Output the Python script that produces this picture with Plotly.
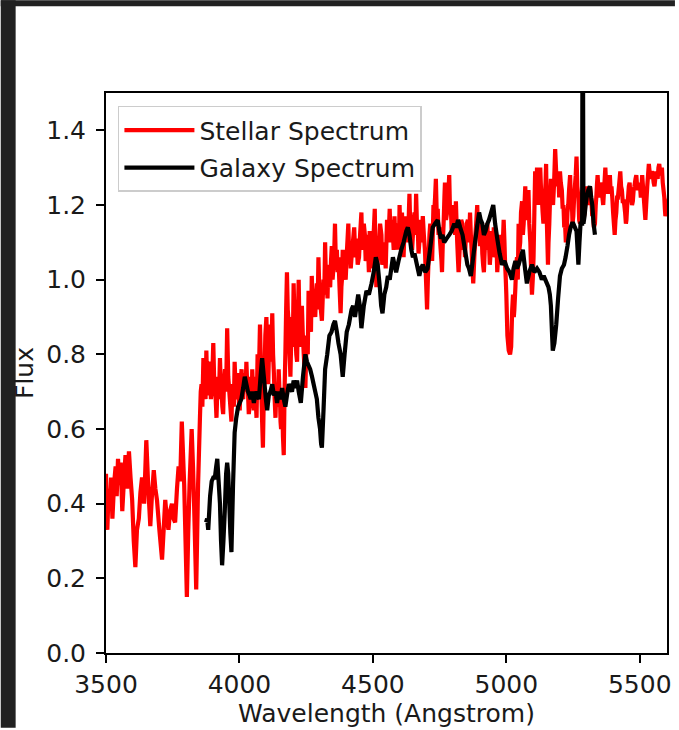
import plotly.graph_objects as go

# Stellar template spectrum as (wavelength [Angstrom], normalised flux) pairs,
# split into three wavelength segments
stellar_blue = [
    (3500, 0.48), (3503, 0.36), (3505, 0.33), (3510, 0.44), (3515, 0.40),
    (3519, 0.47), (3524, 0.36), (3530, 0.45), (3536, 0.50), (3540, 0.42),
    (3545, 0.52), (3550, 0.45), (3555, 0.51), (3561, 0.38), (3567, 0.46),
    (3573, 0.53), (3579, 0.44), (3586, 0.54), (3592, 0.47), (3598, 0.41),
    (3604, 0.30), (3610, 0.23), (3616, 0.33), (3623, 0.36), (3629, 0.43),
    (3635, 0.47), (3643, 0.40), (3651, 0.57), (3658, 0.45), (3666, 0.34),
    (3672, 0.42), (3679, 0.49), (3685, 0.44), (3691, 0.41), (3700, 0.33),
    (3710, 0.25), (3716, 0.33), (3722, 0.41), (3728, 0.36), (3734, 0.33),
    (3740, 0.38), (3747, 0.40), (3753, 0.36), (3759, 0.35), (3766, 0.44),
    (3772, 0.50), (3778, 0.46), (3784, 0.62), (3793, 0.45), (3798, 0.30),
    (3803, 0.15), (3808, 0.32), (3813, 0.45), (3821, 0.60), (3826, 0.50),
    (3830, 0.40), (3838, 0.17), (3845, 0.45),
]
stellar_mid = [
    (3852, 0.63), (3855, 0.70), (3858, 0.72), (3861, 0.66), (3865, 0.79),
    (3868, 0.71), (3870, 0.74), (3873, 0.68), (3876, 0.81), (3879, 0.72),
    (3883, 0.69), (3886, 0.78), (3890, 0.77), (3893, 0.68), (3896, 0.70),
    (3899, 0.76), (3902, 0.83), (3905, 0.74), (3908, 0.72), (3911, 0.68),
    (3914, 0.63), (3917, 0.70), (3920, 0.74), (3923, 0.68), (3927, 0.79),
    (3930, 0.72), (3933, 0.70), (3936, 0.66), (3939, 0.64), (3942, 0.72),
    (3946, 0.76), (3950, 0.70), (3954, 0.87), (3958, 0.74), (3962, 0.70),
    (3966, 0.66), (3970, 0.62), (3973, 0.70), (3976, 0.72), (3979, 0.66),
    (3982, 0.78), (3986, 0.70), (3990, 0.68), (3993, 0.75), (3995, 0.74),
    (3998, 0.67), (4001, 0.65), (4004, 0.72), (4008, 0.76), (4011, 0.70),
    (4014, 0.68), (4017, 0.73), (4020, 0.75), (4023, 0.70), (4026, 0.78),
    (4029, 0.72), (4032, 0.70), (4035, 0.64), (4038, 0.66), (4041, 0.74),
    (4043, 0.72), (4046, 0.66), (4048, 0.76), (4051, 0.70), (4054, 0.65),
    (4057, 0.74), (4060, 0.69), (4064, 0.63), (4068, 0.80), (4072, 0.72),
    (4077, 0.88), (4080, 0.78), (4082, 0.70), (4085, 0.62), (4088, 0.55),
    (4091, 0.68), (4094, 0.75), (4097, 0.85), (4101, 0.90), (4104, 0.80),
    (4106, 0.82), (4108, 0.72), (4110, 0.79), (4113, 0.88), (4116, 0.86),
    (4119, 0.78), (4123, 0.91), (4126, 0.80), (4129, 0.75), (4132, 0.68),
    (4135, 0.63), (4138, 0.70), (4141, 0.72), (4144, 0.66), (4147, 0.76),
    (4150, 0.70), (4152, 0.68), (4154, 0.62), (4156, 0.60), (4159, 0.70),
    (4161, 0.66), (4163, 0.58), (4166, 0.53), (4169, 0.70), (4172, 0.80),
    (4175, 0.92), (4178, 1.02), (4181, 0.92), (4185, 0.88), (4188, 0.80),
    (4191, 0.74), (4194, 0.84), (4197, 0.90), (4200, 0.82), (4203, 0.99),
    (4206, 0.90), (4210, 0.85), (4213, 0.80), (4216, 0.78), (4219, 0.90),
    (4222, 1.00), (4225, 0.86), (4228, 0.90), (4231, 0.82), (4234, 0.93),
    (4237, 0.86), (4241, 0.80), (4244, 0.76), (4247, 0.71), (4250, 0.80),
    (4253, 0.85), (4256, 0.80), (4259, 0.97), (4262, 0.88), (4265, 0.92),
    (4268, 0.86), (4271, 1.01), (4274, 0.94), (4278, 0.95), (4281, 0.92),
    (4284, 0.90), (4287, 0.96), (4290, 0.99), (4293, 0.92), (4296, 1.06),
    (4299, 0.98), (4302, 0.97), (4305, 0.92), (4309, 0.89), (4312, 0.95),
    (4315, 1.00), (4318, 0.96), (4321, 1.10), (4324, 1.00), (4327, 0.99),
    (4330, 0.95), (4333, 1.04), (4336, 0.99), (4340, 0.98), (4343, 1.05),
    (4346, 1.09), (4349, 1.00), (4352, 1.03), (4355, 1.07), (4358, 1.15),
    (4361, 1.05), (4365, 1.08), (4368, 1.02), (4371, 1.06), (4375, 0.98),
    (4379, 0.91), (4382, 0.98), (4384, 1.00), (4387, 1.08), (4389, 1.06),
    (4393, 1.02), (4398, 1.00), (4403, 1.08), (4408, 1.15), (4411, 1.06),
    (4414, 1.09), (4417, 1.03), (4420, 1.06), (4425, 1.10), (4430, 1.14),
    (4434, 1.06), (4439, 1.11), (4443, 1.04), (4448, 1.06), (4452, 1.12),
    (4457, 1.18), (4460, 1.08), (4463, 1.10), (4466, 1.15), (4470, 1.12),
    (4473, 1.05), (4476, 1.06), (4479, 1.12), (4482, 1.08), (4485, 1.02),
    (4488, 1.13), (4491, 1.08), (4495, 1.03), (4498, 1.06), (4501, 1.10),
    (4504, 1.14), (4507, 1.19), (4510, 1.06), (4513, 0.98), (4517, 1.04),
    (4522, 1.08), (4527, 1.15), (4532, 1.12), (4535, 1.04), (4538, 1.05),
    (4541, 1.10), (4544, 1.08), (4548, 1.03), (4553, 1.16), (4558, 1.10),
]
stellar_red = [
    (4563, 1.19), (4566, 1.12), (4569, 1.10), (4572, 1.16), (4575, 1.12),
    (4578, 1.08), (4581, 1.17), (4584, 1.10), (4587, 1.08), (4590, 1.15),
    (4594, 1.14), (4597, 1.08), (4600, 1.20), (4603, 1.12), (4606, 1.13),
    (4609, 1.18), (4612, 1.11), (4615, 1.06), (4619, 1.15), (4622, 1.10),
    (4625, 1.17), (4628, 1.12), (4631, 1.10), (4634, 1.16), (4637, 1.23),
    (4640, 1.14), (4644, 1.15), (4647, 1.08), (4650, 1.12), (4653, 1.16),
    (4656, 1.18), (4659, 1.12), (4662, 1.23), (4665, 1.15), (4668, 1.14),
    (4671, 1.07), (4674, 1.10), (4677, 1.15), (4680, 1.16), (4683, 1.10),
    (4687, 1.17), (4691, 1.12), (4695, 1.08), (4699, 1.00), (4703, 0.92),
    (4706, 1.00), (4709, 1.06), (4712, 1.12), (4715, 1.15), (4718, 1.08),
    (4720, 1.09), (4722, 1.05), (4724, 1.11), (4727, 1.20), (4730, 1.18),
    (4733, 1.22), (4736, 1.27), (4740, 1.15), (4743, 1.19), (4746, 1.12),
    (4749, 1.14), (4752, 1.10), (4754, 1.08), (4757, 1.05), (4759, 1.02),
    (4762, 1.10), (4765, 1.15), (4768, 1.22), (4770, 1.26), (4774, 1.16),
    (4778, 1.18), (4782, 1.22), (4786, 1.28), (4789, 1.18), (4792, 1.20),
    (4795, 1.13), (4798, 1.15), (4801, 1.20), (4805, 1.18), (4808, 1.12),
    (4811, 1.21), (4814, 1.14), (4816, 1.10), (4819, 1.05), (4821, 1.02),
    (4825, 1.08), (4828, 1.10), (4831, 1.16), (4835, 1.15), (4838, 1.08),
    (4842, 1.12), (4845, 1.06), (4848, 1.11), (4852, 1.15), (4856, 1.16),
    (4860, 1.10), (4864, 1.18), (4867, 1.12), (4870, 1.08), (4873, 1.03),
    (4876, 0.99), (4880, 1.06), (4884, 1.12), (4887, 1.15), (4891, 1.20),
    (4894, 1.12), (4898, 1.14), (4901, 1.09), (4904, 1.11), (4907, 1.15),
    (4910, 1.07), (4913, 1.04), (4916, 1.02), (4919, 1.08), (4922, 1.10),
    (4925, 1.14), (4929, 1.15), (4932, 1.08), (4935, 1.10), (4938, 1.04),
    (4941, 1.07), (4944, 1.13), (4947, 1.12), (4950, 1.06), (4953, 1.14),
    (4957, 1.10), (4960, 1.06), (4963, 1.10), (4966, 1.02), (4969, 1.06),
    (4972, 1.08), (4975, 1.12), (4978, 1.09), (4981, 1.04), (4984, 1.12),
    (4987, 1.10), (4990, 1.16), (4993, 1.10), (4995, 1.05), (4998, 1.00),
    (5000, 0.96), (5004, 0.85), (5009, 0.81), (5014, 0.80), (5018, 0.82),
    (5022, 0.92), (5025, 0.96), (5028, 0.90), (5030, 0.92), (5034, 0.98),
    (5037, 1.04), (5040, 1.06), (5043, 1.00), (5046, 1.15), (5049, 1.08),
    (5052, 1.10), (5055, 1.18), (5059, 1.21), (5062, 1.12), (5065, 1.15),
    (5068, 1.20), (5071, 1.25), (5074, 1.16), (5077, 1.18), (5080, 1.22),
    (5083, 1.24), (5086, 1.15), (5090, 1.10), (5093, 1.02), (5096, 0.96),
    (5099, 1.00), (5102, 1.06), (5105, 1.18), (5108, 1.29), (5111, 1.20),
    (5115, 1.30), (5118, 1.24), (5121, 1.20), (5124, 1.26), (5127, 1.30),
    (5130, 1.24), (5133, 1.22), (5136, 1.18), (5139, 1.15), (5142, 1.20),
    (5144, 1.22), (5147, 1.26), (5149, 1.31), (5152, 1.15), (5156, 1.04),
    (5158, 1.10), (5161, 1.15), (5164, 1.22), (5167, 1.27), (5171, 1.22),
    (5175, 1.20), (5179, 1.26), (5183, 1.35), (5186, 1.30), (5189, 1.25),
    (5192, 1.28), (5195, 1.28), (5198, 1.22), (5201, 1.29), (5204, 1.26),
    (5208, 1.24), (5211, 1.19), (5214, 1.20), (5217, 1.14), (5220, 1.15),
    (5223, 1.10), (5226, 1.12), (5229, 1.18), (5232, 1.20), (5235, 1.24),
    (5239, 1.28), (5242, 1.20), (5245, 1.22), (5248, 1.15), (5251, 1.17),
    (5254, 1.22), (5257, 1.25), (5260, 1.28), (5263, 1.33), (5266, 1.25),
    (5270, 1.22), (5273, 1.16), (5276, 1.15), (5279, 1.18), (5282, 1.20),
    (5285, 1.24), (5288, 1.21), (5291, 1.17), (5294, 1.18), (5297, 1.22),
    (5301, 1.25), (5305, 1.20), (5310, 1.22), (5314, 1.25), (5319, 1.21),
    (5322, 1.17), (5325, 1.18), (5328, 1.14), (5332, 1.15), (5335, 1.20),
    (5337, 1.22), (5340, 1.26), (5342, 1.28), (5345, 1.24), (5349, 1.22),
    (5352, 1.26), (5356, 1.24), (5360, 1.22), (5363, 1.20), (5367, 1.25),
    (5371, 1.30), (5374, 1.25), (5376, 1.26), (5379, 1.24), (5381, 1.23),
    (5385, 1.26), (5388, 1.28), (5391, 1.23), (5394, 1.25), (5397, 1.22),
    (5400, 1.18), (5403, 1.15), (5406, 1.12), (5409, 1.16), (5412, 1.18),
    (5415, 1.22), (5418, 1.22), (5422, 1.25), (5427, 1.29), (5430, 1.25),
    (5433, 1.24), (5436, 1.21), (5440, 1.21), (5442, 1.20), (5445, 1.18),
    (5448, 1.15), (5450, 1.16), (5453, 1.20), (5456, 1.22), (5459, 1.25),
    (5462, 1.26), (5465, 1.22), (5468, 1.23), (5471, 1.20), (5474, 1.21),
    (5477, 1.24), (5480, 1.25), (5484, 1.27), (5487, 1.28), (5490, 1.25),
    (5493, 1.24), (5496, 1.26), (5499, 1.25), (5502, 1.24), (5504, 1.22),
    (5507, 1.25), (5509, 1.28), (5512, 1.25), (5515, 1.22), (5518, 1.19),
    (5521, 1.16), (5524, 1.20), (5528, 1.25), (5531, 1.28), (5534, 1.31),
    (5538, 1.28), (5541, 1.27), (5545, 1.29), (5549, 1.28), (5552, 1.26),
    (5555, 1.25), (5558, 1.27), (5561, 1.29), (5564, 1.28), (5567, 1.27),
    (5570, 1.30), (5573, 1.31), (5576, 1.29), (5580, 1.28), (5583, 1.30),
    (5586, 1.26), (5589, 1.24), (5592, 1.22), (5594, 1.19), (5596, 1.17),
    (5610, 1.22),
]

# Observed galaxy spectrum
galaxy_points = [
    (3875, 0.35), (3879, 0.36), (3883, 0.33), (3890, 0.42), (3896, 0.46),
    (3902, 0.47), (3908, 0.47), (3913, 0.50), (3917, 0.52), (3922, 0.46),
    (3927, 0.40), (3931, 0.30), (3935, 0.235), (3940, 0.30), (3945, 0.38),
    (3950, 0.48), (3954, 0.51), (3958, 0.48), (3961, 0.42), (3966, 0.32),
    (3970, 0.27), (3976, 0.45), (3982, 0.59), (3988, 0.63), (3995, 0.66),
    (4001, 0.67), (4007, 0.68), (4014, 0.71), (4020, 0.74), (4026, 0.72),
    (4032, 0.70), (4038, 0.69), (4042, 0.68), (4048, 0.70), (4054, 0.67),
    (4061, 0.70), (4067, 0.69), (4073, 0.68), (4079, 0.74), (4085, 0.79),
    (4090, 0.75), (4094, 0.72), (4099, 0.68), (4104, 0.65), (4110, 0.69),
    (4116, 0.70), (4123, 0.72), (4129, 0.69), (4135, 0.70), (4141, 0.67),
    (4147, 0.70), (4154, 0.68), (4160, 0.71), (4166, 0.68), (4172, 0.66),
    (4178, 0.69), (4185, 0.72), (4191, 0.71), (4197, 0.70), (4203, 0.73),
    (4210, 0.71), (4216, 0.73), (4222, 0.70), (4230, 0.67), (4238, 0.74),
    (4247, 0.80), (4253, 0.78), (4259, 0.77), (4265, 0.76), (4272, 0.74),
    (4278, 0.72), (4284, 0.70), (4290, 0.68), (4296, 0.63), (4302, 0.60),
    (4306, 0.56), (4309, 0.55), (4315, 0.65), (4321, 0.76), (4329, 0.80),
    (4337, 0.85), (4345, 0.86), (4352, 0.88), (4358, 0.89), (4365, 0.86),
    (4371, 0.83), (4379, 0.80), (4387, 0.74), (4394, 0.80), (4402, 0.86),
    (4410, 0.88), (4420, 0.92), (4426, 0.93), (4433, 0.90), (4439, 0.93),
    (4445, 0.96), (4451, 0.93), (4457, 0.87), (4466, 0.93), (4476, 0.97),
    (4485, 0.96), (4495, 0.99), (4503, 1.02), (4511, 1.06), (4518, 1.04),
    (4526, 0.98), (4531, 0.93), (4536, 0.91), (4543, 0.96), (4550, 0.98),
    (4556, 1.01), (4563, 1.00), (4569, 1.03), (4575, 1.06), (4581, 1.04),
    (4587, 1.02), (4596, 1.05), (4606, 1.08), (4615, 1.10), (4625, 1.13),
    (4631, 1.14), (4637, 1.12), (4644, 1.08), (4650, 1.06), (4656, 1.07),
    (4662, 1.05), (4668, 1.03), (4674, 1.01), (4680, 1.03), (4687, 1.04),
    (4696, 1.02), (4705, 1.03), (4714, 1.08), (4724, 1.14), (4733, 1.15),
    (4743, 1.16), (4749, 1.13), (4755, 1.11), (4761, 1.12), (4767, 1.10),
    (4776, 1.11), (4786, 1.12), (4795, 1.13), (4805, 1.15), (4812, 1.14),
    (4819, 1.16), (4827, 1.14), (4836, 1.12), (4845, 1.08), (4854, 1.04),
    (4860, 1.03), (4867, 1.01), (4874, 1.05), (4881, 1.09), (4890, 1.14),
    (4898, 1.18), (4904, 1.16), (4910, 1.15), (4916, 1.12), (4922, 1.13),
    (4929, 1.15), (4935, 1.16), (4943, 1.18), (4951, 1.20), (4958, 1.15),
    (4966, 1.11), (4975, 1.07), (4984, 1.04), (4993, 1.05), (5003, 1.03),
    (5012, 1.02), (5021, 1.00), (5027, 1.03), (5034, 1.05), (5040, 1.03),
    (5046, 1.04), (5054, 1.06), (5062, 1.08), (5070, 1.03), (5077, 0.99),
    (5086, 1.02), (5096, 1.04), (5105, 1.02), (5115, 1.03), (5124, 1.02),
    (5133, 1.00), (5140, 1.01), (5146, 1.00), (5152, 0.99), (5158, 0.98),
    (5163, 0.96), (5167, 0.93), (5171, 0.86), (5174, 0.81), (5180, 0.83),
    (5187, 0.88), (5194, 0.95), (5201, 1.01), (5208, 1.03), (5216, 1.04),
    (5222, 1.06), (5229, 1.09), (5235, 1.12), (5241, 1.14), (5246, 1.15),
    (5251, 1.15), (5257, 1.14), (5263, 1.13), (5267, 1.08), (5270, 1.04),
    (5274, 1.10), (5278, 1.15), (5284, 1.15), (5286, 1.90), (5289, 1.15),
    (5293, 1.17), (5297, 1.20), (5301, 1.22), (5307, 1.24), (5313, 1.25),
    (5318, 1.22), (5322, 1.20), (5327, 1.15), (5332, 1.12),
]

x_ticks = [3500, 4000, 4500, 5000, 5500]
y_ticks = [0.0, 0.2, 0.4, 0.6, 0.8, 1.0, 1.2, 1.4]

stellar_wave, stellar_flux = zip(*(stellar_blue + stellar_mid + stellar_red))
galaxy_wave, galaxy_flux = zip(*galaxy_points)

FONT = "DejaVu Sans"
FS = 25
INK = "#1a1a1a"
W, H = 679, 730
L, R, T, B = 106, 8, 93, 75
pw, ph = W - L - R, H - T - B


def px_x(p):
    return (p - L) / pw


def px_y(p):
    return (H - B - p) / ph


fig = go.Figure()
fig.add_trace(go.Scatter(
    x=list(stellar_wave), y=list(stellar_flux), mode="lines",
    name="Stellar Spectrum", legendgroup="stellar",
    line=dict(color="#ff0000", width=4.2, simplify=False),
))
fig.add_trace(go.Scatter(
    x=list(galaxy_wave), y=list(galaxy_flux), mode="lines",
    name="Galaxy Spectrum", legendgroup="galaxy",
    line=dict(color="#000000", width=4.2, simplify=False),
))

axis_common = dict(
    showgrid=False, zeroline=False, showline=True, mirror=True,
    linecolor="black", linewidth=2, ticks="outside", ticklen=8,
    tickwidth=2, tickcolor="black",
    tickfont=dict(family=FONT, size=FS, color=INK),
)

fig.update_layout(
    width=W, height=H,
    margin=dict(l=L, r=R, t=T, b=B, pad=0),
    paper_bgcolor="white", plot_bgcolor="white",
    font=dict(family=FONT, size=FS, color=INK),
    xaxis=dict(
        range=[3500, 5602], tickvals=x_ticks,
        ticktext=[str(v) for v in x_ticks],
        title=dict(text="Wavelength (Angstrom)", standoff=5,
                   font=dict(family=FONT, size=FS, color=INK)),
        **axis_common,
    ),
    yaxis=dict(
        range=[0, 1.5], tickvals=y_ticks,
        ticktext=[f"{v:.1f}" for v in y_ticks],
        ticklabelstandoff=5,
        title=dict(text="Flux", standoff=5,
                   font=dict(family=FONT, size=FS, color=INK)),
        **axis_common,
    ),
    legend=dict(
        x=px_x(118), y=px_y(106), xanchor="left", yanchor="top",
        bgcolor="rgba(255,255,255,0.85)", bordercolor="#cccccc",
        borderwidth=1.5, font=dict(family=FONT, size=FS, color=INK),
        itemwidth=70, tracegroupgap=2, traceorder="grouped",
    ),
    showlegend=True,
)

# dark frame bands along the top and left edges of the page
band = "#212121"
fig.add_shape(type="rect", xref="paper", yref="paper",
              x0=px_x(0), x1=px_x(W), y0=px_y(6), y1=px_y(0),
              fillcolor=band, line=dict(width=0), layer="above")
fig.add_shape(type="rect", xref="paper", yref="paper",
              x0=px_x(0), x1=px_x(15), y0=px_y(H), y1=px_y(0),
              fillcolor=band, line=dict(width=0), layer="above")

fig.write_html("out.html")
